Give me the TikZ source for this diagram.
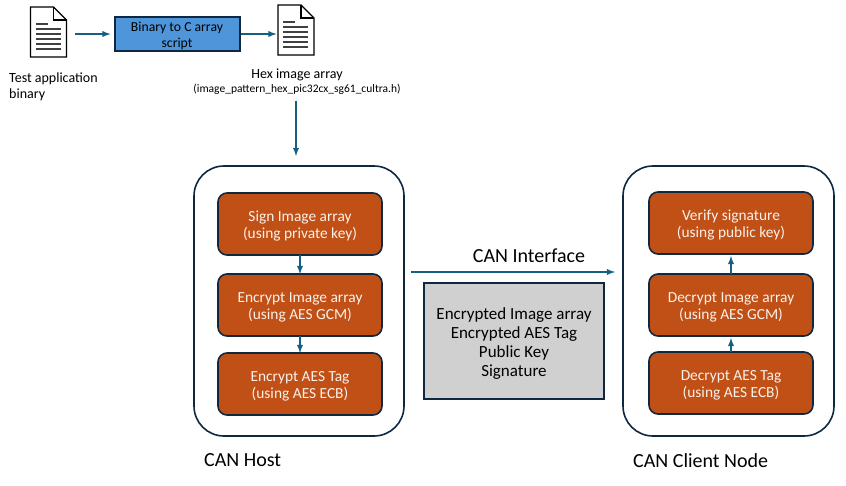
\documentclass[tikz,border=0pt]{standalone}
\usepackage{fontspec}
\setmainfont{Carlito}
\usetikzlibrary{positioning,arrows}
\definecolor{tDark}{RGB}{14,40,65}
\definecolor{tLine}{RGB}{21,96,130}
\definecolor{tRust}{RGB}{192,80,21}
\definecolor{tBlue}{RGB}{78,149,217}
\definecolor{tGrey}{RGB}{208,208,208}
\tikzstyle{tArrow} = [line width=1.8pt,->,>=latex,draw=tLine]
\tikzstyle{tStep} = [rectangle, rounded corners=9pt, draw=tDark, line width=1.6pt, fill=tRust, text=white!92!tRust, align=center, minimum width=164pt, minimum height=62pt, inner sep=0pt, outer sep=0pt, font=\fontsize{15.4}{17}\selectfont]
\tikzstyle{tGroup} = [rectangle, rounded corners=30pt, draw=tDark, line width=1.6pt, minimum width=210pt, minimum height=270pt, outer sep=0pt]
\tikzstyle{tScript} = [rectangle, draw=tDark, line width=2pt, fill=tBlue, align=center, minimum width=125pt, minimum height=34pt, inner sep=0pt, outer sep=0pt, font=\fontsize{13.7}{16}\selectfont]
\tikzstyle{tPayload} = [rectangle, draw=tDark, line width=2pt, fill=tGrey, align=center, minimum width=180pt, minimum height=116pt, inner sep=0pt, outer sep=0pt, font=\fontsize{17}{19}\selectfont]
\tikzstyle{tLabel} = [align=left, inner sep=0pt, font=\fontsize{14}{16}\selectfont]
\tikzstyle{tHead} = [inner sep=0pt, anchor=west, font=\fontsize{20}{22}\selectfont]
\tikzstyle{tDoc} = [rectangle, minimum width=36pt, minimum height=50pt, inner sep=0pt, outer sep=0pt]
\newcommand{\tLift}{\rule{0pt}{1em}}
\newcommand{\docIcon}[1]{%
  \begin{scope}[shift={(#1.center)},draw=black]
    \draw[line width=1.2pt,fill=white] (-18,-25) -- (5,-25) -- (18,-12) -- (18,25) -- (-18,25) -- cycle;
    \draw[line width=1.2pt] (5,-25) -- (5,-12) -- (18,-12);
    \draw[line width=1.2pt,black!75] (-13,-8) -- (-1,-8);
    \foreach \y in {-3,2,7,12,17} \draw[line width=1.2pt,black!75] (-13,\y) -- (12,\y);
  \end{scope}}

\begin{document}
\begin{tikzpicture}[x=1pt,y=-1pt]
        \useasboundingbox (0,0) rectangle (846,485);
        % top row
        \node[tDoc] (TestDoc) at (48.5,32) {};
        \docIcon{TestDoc}
        \node[tScript] (BinScript) at (177,34) {\tLift Binary to C array\\script};
        \node[tDoc] (HexDoc) at (296,30) {};
        \docIcon{HexDoc}
        \draw[tArrow,shorten <=8pt,shorten >=4pt] (TestDoc.east |- BinScript.west) -- (BinScript.west);
        \draw[tArrow,shorten <=1pt,shorten >=1.5pt] (BinScript.east) -- (HexDoc.west |- BinScript.east);
        \node[tLabel,anchor=north west] (TestLabel) at (9,73) {Test application\\binary};
        \node[tLabel] (HexLabel) at (297,74.5) {Hex image array};
        \node[inner sep=0pt,font=\fontsize{11.5}{12}\selectfont] (HexFile) [below=3pt of HexLabel] {(image\_pattern\_hex\_pic32cx\_sg61\_cultra.h)};
        % host
        \node[tGroup] (CanHost) at (299,301) {};
        \node[tStep] (SignImg) at (300,224) {\tLift Sign Image array\\(using private key)};
        \node[tStep] (EncImg) [below=19pt of SignImg] {\tLift Encrypt Image array\\(using AES GCM)} edge [tArrow,<-] (SignImg);
        \node[tStep] (EncTag) [below=17pt of EncImg] {\tLift Encrypt AES Tag\\(using AES ECB)} edge [tArrow,<-] (EncImg);
        \draw[tArrow,shorten <=6pt,shorten >=10pt] (HexFile.south -| 296,0) -- (CanHost.north -| 296,0);
        \node[tHead] (HostLabel) at (204,460.3) {CAN Host};
        % client
        \node[tGroup,minimum width=211pt] (CanClient) [right=219pt of CanHost] {};
        \node[tStep] (DecTag) at (731,383) {\tLift Decrypt AES Tag\\(using AES ECB)};
        \node[tStep] (DecImg) [above=16pt of DecTag] {\tLift Decrypt Image array\\(using AES GCM)};
        \node[tStep] (VerifySig) [above=20pt of DecImg] {\tLift Verify signature\\(using public key)};
        \draw[tArrow,shorten >=2pt] (DecTag) -- (DecImg);
        \draw[tArrow,shorten >=2pt] (DecImg) -- (VerifySig);
        \node[tHead] (ClientLabel) at (633,460.3) {CAN Client Node};
        % link between them
        \draw[tArrow,shorten <=7pt,shorten >=8pt] ([yshift=29pt]CanHost.east) -- ([yshift=29pt]CanClient.west);
        \node[tHead,anchor=center] (CanLink) at (529,256) {CAN Interface};
        \node[tPayload] (Payload) at (514,341) {\tLift Encrypted Image array\\Encrypted AES Tag\\Public Key\\Signature};
    \end{tikzpicture}
\end{document}
